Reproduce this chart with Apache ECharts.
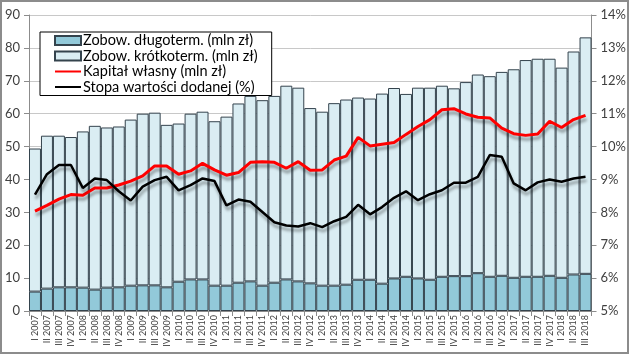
<!DOCTYPE html>
<html>
<head>
<meta charset="utf-8">
<script src="https://cdn.jsdelivr.net/npm/echarts@6/dist/echarts.min.js"></script>
<style>
  html, body { margin: 0; padding: 0; background: #fff; }
  #wrap { position: relative; width: 629px; height: 354px; }
  #chart { width: 629px; height: 354px; }
  #frame { position: absolute; left: 0; top: 0; width: 629px; height: 354px; box-sizing: border-box;
           border: 2px solid #8c8c8c; pointer-events: none; }
</style>
</head>
<body>
<div id="wrap"><div id="chart"></div><div id="frame"></div></div>
<script>
// quarters I 2007 .. III 2018
const quarters = [
  "I 2007", "II 2007", "III 2007", "IV 2007",
  "I 2008", "II 2008", "III 2008", "IV 2008",
  "I 2009", "II 2009", "III 2009", "IV 2009",
  "I 2010", "II 2010", "III 2010", "IV 2010",
  "I 2011", "II 2011", "III 2011", "IV 2011",
  "I 2012", "II 2012", "III 2012", "IV 2012",
  "I 2013", "II 2013", "III 2013", "IV 2013",
  "I 2014", "II 2014", "III 2014", "IV 2014",
  "I 2015", "II 2015", "III 2015", "IV 2015",
  "I 2016", "II 2016", "III 2016", "IV 2016",
  "I 2017", "II 2017", "III 2017", "IV 2017",
  "I 2018", "II 2018", "III 2018"
];

// mln zł
const longTerm = [
  5.9, 6.8, 7.2, 7.2, 7.1, 6.5, 7.1, 7.2, 7.7, 7.8, 7.8, 7.2,
  8.9, 9.6, 9.6, 7.7, 7.7, 8.6, 9.0, 7.7, 8.6, 9.6, 9.0, 8.4,
  7.7, 7.7, 8.0, 9.5, 9.5, 8.3, 9.9, 10.4, 9.9, 9.5, 10.4, 10.6,
  10.6, 11.5, 10.4, 10.7, 10.1, 10.4, 10.4, 10.7, 10.1, 11.1, 11.3
];
const shortTerm = [
  43.5, 46.5, 46.1, 45.7, 47.5, 49.8, 48.7, 48.9, 50.5, 52.2, 52.5, 49.4,
  48.1, 50.4, 51.0, 50.0, 51.4, 54.5, 56.4, 56.4, 56.8, 58.9, 58.9, 53.3,
  52.9, 55.5, 56.3, 55.4, 55.1, 57.8, 57.9, 55.6, 58.0, 58.4, 58.1, 57.1,
  59.0, 60.4, 61.0, 62.0, 63.4, 65.9, 66.3, 66.0, 63.9, 67.8, 71.9
];
const equity = [
  30.4, 32.1, 34.0, 35.4, 35.2, 37.4, 37.4, 38.3, 39.5, 41.1, 44.1, 44.1,
  41.6, 42.6, 44.9, 42.9, 41.3, 42.1, 45.2, 45.4, 45.2, 43.4, 45.4, 42.8,
  42.9, 45.9, 47.1, 52.8, 50.2, 50.7, 51.2, 53.7, 56.1, 58.2, 61.2, 61.5,
  59.9, 58.9, 58.7, 55.6, 53.9, 53.4, 53.8, 57.7, 55.8, 58.2, 59.5
];
// %
const valueAddedRate = [
  8.54, 9.16, 9.44, 9.44, 8.74, 9.03, 8.98, 8.64, 8.36, 8.78, 8.98, 9.08,
  8.67, 8.83, 9.03, 8.95, 8.21, 8.39, 8.32, 8.01, 7.70, 7.60, 7.57, 7.67,
  7.55, 7.73, 7.86, 8.23, 7.94, 8.16, 8.44, 8.64, 8.37, 8.55, 8.67, 8.90,
  8.90, 9.08, 9.74, 9.69, 8.88, 8.67, 8.91, 9.00, 8.93, 9.03, 9.08
];

const FONT = "Lato, 'Open Sans', sans-serif";
const names = [
  "Zobow. długoterm. (mln zł)",
  "Zobow. krótkoterm. (mln zł)",
  "Kapitał własny (mln zł)",
  "Stopa wartości dodanej (%)"
];

const barBorder = "#34434d";
const lineShadow = {
  shadowColor: "rgba(0,0,0,0.35)",
  shadowBlur: 3,
  shadowOffsetY: 4,
  shadowOffsetX: 1
};

const chart = echarts.init(document.getElementById("chart"));
chart.setOption({
  animation: false,
  textStyle: { fontFamily: FONT },
  grid: { left: 29, right: 37, top: 15, bottom: 43 },
  legend: {
    orient: "vertical",
    left: 40,
    top: 32,
    padding: [1, 14, 1, 14],
    itemGap: 0.5,
    itemWidth: 26,
    itemHeight: 9,
    backgroundColor: "#fff",
    borderColor: "#000",
    borderWidth: 1,
    textStyle: { fontSize: 14.5, lineHeight: 14, color: "#000", fontFamily: FONT, padding: [0, 0, 0, -3] },
    data: [
      { name: names[0], icon: "rect" },
      { name: names[1], icon: "rect" },
      // hide the marker dot, keep only the line
      { name: names[2], itemStyle: { opacity: 0 } },
      { name: names[3], itemStyle: { opacity: 0 } }
    ]
  },
  xAxis: {
    type: "category",
    data: quarters,
    axisLine: { lineStyle: { color: "#8c8c8c" } },
    axisTick: { show: true, length: 5, lineStyle: { color: "#8c8c8c" } },
    axisLabel: { interval: 0, rotate: 90, fontSize: 9, color: "#404040", margin: 4 }
  },
  yAxis: [
    {
      type: "value",
      min: 0, max: 90, interval: 10,
      axisLine: { show: true, lineStyle: { color: "#8c8c8c" } },
      axisTick: { show: true, length: 5, lineStyle: { color: "#8c8c8c" } },
      axisLabel: { fontSize: 13, color: "#404040", margin: 9 },
      splitLine: { lineStyle: { color: "#c8c8c8" } }
    },
    {
      type: "value",
      min: 5, max: 14, interval: 1,
      position: "right",
      axisLine: { show: true, lineStyle: { color: "#8c8c8c" } },
      axisTick: { show: true, length: 5, lineStyle: { color: "#8c8c8c" } },
      axisLabel: { fontSize: 13, color: "#404040", margin: 9, formatter: "{value}%" },
      splitLine: { show: false }
    }
  ],
  series: [
    {
      name: names[0],
      type: "bar",
      stack: "zob",
      data: longTerm,
      barCategoryGap: "0%",
      itemStyle: { color: "#92c9d9", borderColor: barBorder, borderWidth: 1 }
    },
    {
      name: names[1],
      type: "bar",
      stack: "zob",
      data: shortTerm,
      barCategoryGap: "0%",
      itemStyle: { color: "#daedf3", borderColor: barBorder, borderWidth: 1 }
    },
    {
      name: names[2],
      type: "line",
      data: equity,
      symbol: "none",
      lineStyle: Object.assign({ color: "#ff0000", width: 3 }, lineShadow),
      itemStyle: { color: "#ff0000" },
      z: 4
    },
    {
      name: names[3],
      type: "line",
      yAxisIndex: 1,
      data: valueAddedRate,
      symbol: "none",
      lineStyle: Object.assign({ color: "#000", width: 2.5 }, lineShadow),
      itemStyle: { color: "#000" },
      z: 5
    }
  ]
});
window.addEventListener("resize", () => chart.resize());
</script>
</body>
</html>
